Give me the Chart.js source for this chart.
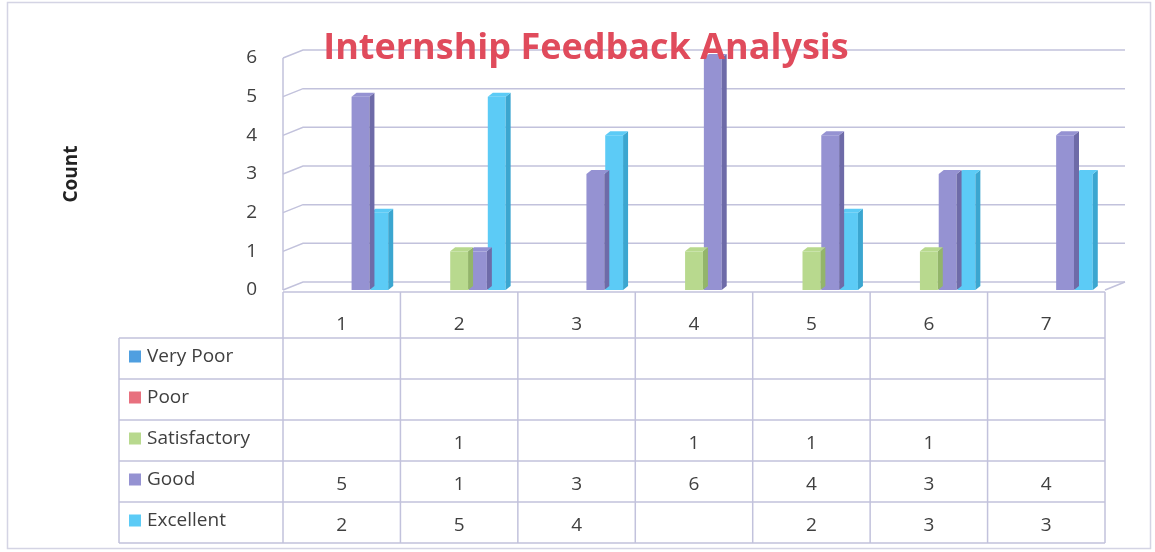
<!DOCTYPE html>
<html>
<head>
<meta charset="utf-8">
<script src="https://cdn.jsdelivr.net/npm/chart.js@4"></script>
<style>
html,body{margin:0;padding:0;background:#fff;}
#wrap{position:relative;width:1155px;height:552px;}
</style>
</head>
<body>
<div id="wrap"><canvas id="feedbackChart"></canvas></div>
<script>
// data
const chartTitle = 'Internship Feedback Analysis';
const categories = ['1','2','3','4','5','6','7'];
const seriesNames = ['Very Poor','Poor','Satisfactory','Good','Excellent'];
const veryPoor = [null,null,null,null,null,null,null];
const poor = [null,null,null,null,null,null,null];
const satisfactory = [null,1,null,1,1,1,null];
const good = [5,1,3,6,4,3,4];
const excellent = [2,5,4,null,2,3,3];
const yTicks = [0,1,2,3,4,5,6];

const fills = ['#4F9FE0','#E8707E','#B8D98E','#9592D2','#5CCBF6'];
const sides = ['#3A7FBB','#C4525F','#93B56A','#6E6BA8','#3BA6D0'];
const gridColor = '#C2C2DC';
const textColor = '#404040';
const font = "'Open Sans', sans-serif";

const allSeries = [veryPoor, poor, satisfactory, good, excellent];

// fake 3D: side + top face drawn right after each dataset
const depthPlugin = {
  id: 'depth',
  afterDatasetDraw(chart, args) {
    const ctx = chart.ctx;
    const i = args.index;
    const data = chart.data.datasets[i].data;
    const dx = 5, dy = 4;
    ctx.save();
    args.meta.data.forEach((bar, j) => {
      if (data[j] == null) return;
      const p = bar.getProps(['x','y','base','width'], true);
      const l = p.x - p.width / 2, r = p.x + p.width / 2;
      ctx.fillStyle = sides[i];
      ctx.beginPath();
      ctx.moveTo(r, p.y); ctx.lineTo(r + dx, p.y - dy);
      ctx.lineTo(r + dx, p.base - dy); ctx.lineTo(r, p.base);
      ctx.closePath(); ctx.fill();
      ctx.fillStyle = fills[i];
      ctx.beginPath();
      ctx.moveTo(l, p.y); ctx.lineTo(l + dx, p.y - dy);
      ctx.lineTo(r + dx, p.y - dy); ctx.lineTo(r, p.y);
      ctx.closePath(); ctx.fill();
    });
    ctx.restore();
  }
};

// back wall grid, table, title, frame
const framePlugin = {
  id: 'frame',
  beforeDatasetsDraw(chart) {
    const ctx = chart.ctx, a = chart.chartArea, y = chart.scales.y;
    const dx = 20, dy = 8;
    ctx.save();
    ctx.strokeStyle = gridColor;
    ctx.lineWidth = 1.5;
    yTicks.forEach(v => {
      const py = y.getPixelForValue(v);
      ctx.beginPath();
      ctx.moveTo(a.left, py);
      ctx.lineTo(a.left + dx, py - dy);
      ctx.lineTo(a.right + dx, py - dy);
      ctx.stroke();
    });
    ctx.beginPath();
    ctx.moveTo(a.left, y.getPixelForValue(yTicks[yTicks.length - 1]));
    ctx.lineTo(a.left, y.getPixelForValue(0));
    ctx.moveTo(a.right, y.getPixelForValue(0));
    ctx.lineTo(a.right + dx, y.getPixelForValue(0) - dy);
    ctx.stroke();
    ctx.restore();
  },
  afterDraw(chart) {
    const ctx = chart.ctx, a = chart.chartArea, x = chart.scales.x;
    const colW = (a.right - a.left) / categories.length;
    const top = a.bottom + 2, headBottom = top + 46, rowH = 41;
    const tableLeft = 119;
    const bottom = headBottom + rowH * seriesNames.length;
    ctx.save();

    // outer frame
    ctx.strokeStyle = '#D4D4E4';
    ctx.lineWidth = 1.5;
    ctx.strokeRect(7.5, 2.5, 1143, 546);

    // table grid
    ctx.strokeStyle = gridColor;
    ctx.lineWidth = 1.5;
    ctx.beginPath();
    ctx.moveTo(a.left, top); ctx.lineTo(a.right, top);
    for (let r = 0; r <= seriesNames.length; r++) {
      ctx.moveTo(tableLeft, headBottom + r * rowH);
      ctx.lineTo(a.right, headBottom + r * rowH);
    }
    ctx.moveTo(tableLeft, headBottom); ctx.lineTo(tableLeft, bottom);
    for (let c = 0; c <= categories.length; c++) {
      const px = x.getPixelForValue(0) - colW / 2 + c * colW;
      ctx.moveTo(px, top); ctx.lineTo(px, bottom);
    }
    ctx.stroke();

    // header + values
    ctx.fillStyle = textColor;
    ctx.font = '19px ' + font;
    ctx.textAlign = 'center';
    ctx.textBaseline = 'middle';
    categories.forEach((c, j) => {
      const px = x.getPixelForValue(j);
      ctx.fillText(c, px, top + 33);
      allSeries.forEach((s, r) => {
        if (s[j] != null) ctx.fillText(String(s[j]), px, headBottom + r * rowH + rowH / 2 + 3);
      });
    });

    // row headers with legend keys
    ctx.textAlign = 'left';
    seriesNames.forEach((n, r) => {
      const cy = headBottom + r * rowH + rowH / 2 - 2;
      ctx.fillStyle = fills[r];
      ctx.fillRect(129, cy - 6, 12, 12);
      ctx.fillStyle = textColor;
      ctx.fillText(n, 147, cy);
    });

    // title
    ctx.fillStyle = '#E04B5C';
    ctx.font = "bold 36px 'Open Sans', sans-serif";
    ctx.textAlign = 'center';
    ctx.fillText(chartTitle, 586, 49);
    ctx.restore();
  }
};

const ctx = document.getElementById('feedbackChart');

new Chart(ctx, {
  type: 'bar',
  data: {
    labels: categories,
    datasets: seriesNames.map((name, i) => ({
      label: name,
      data: allSeries[i],
      backgroundColor: fills[i],
      borderWidth: 0,
      categoryPercentage: 0.8,
      barPercentage: 0.95
    }))
  },
  options: {
    responsive: true,
    maintainAspectRatio: false,
    animation: false,
    layout: { padding: { top: 58, right: 50, bottom: 262, left: 0 } },
    plugins: {
      legend: { display: false },
      tooltip: { enabled: false }
    },
    scales: {
      x: { display: false },
      y: {
        min: 0,
        max: 6,
        afterFit(scale) { scale.width = 283; },
        afterBuildTicks(scale) { scale.ticks = yTicks.map(v => ({ value: v })); },
        border: { display: false },
        grid: { display: false, drawTicks: false },
        ticks: { color: textColor, font: { family: "'Open Sans'", size: 19 }, padding: 26 },
        title: {
          display: true,
          text: 'Count',
          color: '#222',
          font: { family: "'Open Sans'", size: 19, weight: 'bold' },
          padding: { top: 60, bottom: 0 }
        }
      }
    }
  },
  plugins: [depthPlugin, framePlugin]
});
</script>
</body>
</html>
